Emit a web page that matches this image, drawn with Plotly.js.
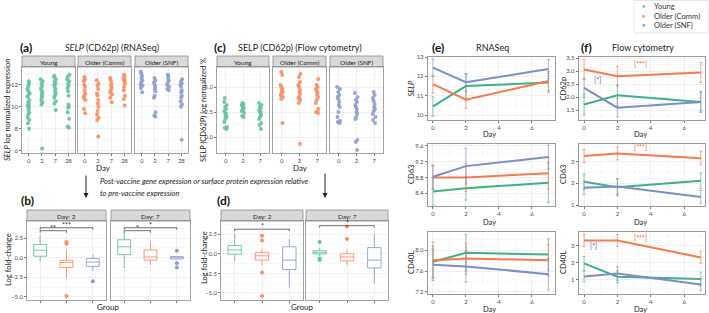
<!DOCTYPE html>
<html><head><meta charset="utf-8">
<script src="https://cdn.plot.ly/plotly-3.0.1.min.js"></script>
<style>body{margin:0;background:#fff}#chart{width:709px;height:313px}</style>
</head><body><div id="chart"></div>
<script>
// ---------- data ----------
const groups = ['Young','Older (Comm)','Older (SNF)'];
const pointColors = ['#66C2A5','#FC8D62','#8DA0CB'];
const lineColors = ['#3FB088','#F37B4E','#7D8DC6'];
const rnaDays = ['0','2','7','28'];
const flowDays = ['0','2','7'];
const trendDays = [0,2,7];

// (a) SELP RNASeq log normalized expression, per day
const selpRnaYoung = [
  [12.3,12.2,12.0,11.8,11.6,11.4,11.2,11.0,10.9,10.6,10.4,10.2,10.1,10.0,9.9,9.7,9.5,9.3,9.0,8.8,8.5,8.0],
  [12.5,12.3,12.1,11.9,11.7,11.5,11.3,11.1,11.0,10.8,10.6,10.4,10.2,6.2],
  [12.8,12.7,12.5,12.3,12.1,12.0,11.8,11.6,11.4,11.2,11.0,10.8,10.5,10.3,9.7],
  [12.9,12.7,12.5,12.3,12.1,11.9,11.7,11.4,11.0,10.2,10.0,9.9,9.5,8.9,8.2,8.1]];
const selpRnaComm = [
  [12.7,12.5,12.3,12.0,11.8,11.5,11.2,11.0,10.8,10.6,9.8,9.4],
  [12.4,12.1,11.9,11.6,11.2,11.0,10.6,10.3,10.0,9.6,9.3,9.0,8.8,7.3],
  [12.6,12.4,12.1,11.9,11.7,11.5,11.3,11.1,10.8,10.4],
  [12.9,12.8,12.6,12.5,12.4,12.3,12.1,11.8,11.5,11.0,10.7,10.1]];
const selpRnaSNF = [
  [13.2,13.0,12.8,12.6,12.4,12.2,12.0,11.9,11.7,11.3],
  [12.6,12.4,12.2,12.0,11.8,11.6,11.4,11.0,10.8,9.5,9.2,9.1],
  [12.9,12.8,12.6,12.4,12.2,12.0,11.8,11.6,11.5],
  [12.5,12.3,12.1,12.0,11.8,11.5,11.3,11.0,10.8,10.5,10.2,10.0,7.0]];

// (c) SELP flow cytometry log normalized %
const selpFlowYoung = [
  [3.9,3.5,3.2,3.0,2.8,2.6,2.4,2.3,2.1,2.0,1.8,1.5,1.0,0.9,0.8],
  [3.4,3.3,3.2,3.1,3.0,2.9,2.8,2.7,2.6,2.4,2.1,2.0],
  [3.4,3.2,3.0,2.9,2.7,2.6,2.5,2.4,2.2,2.0,1.8,1.4,1.2,0.8]];
const selpFlowComm = [
  [6.5,6.2,5.2,5.0,4.8,4.6,4.5,4.3,4.2,4.0,3.8,1.4],
  [6.3,6.0,5.5,5.2,5.0,4.7,4.5,4.3,4.0,3.9,3.7,3.4,-0.7],
  [5.8,5.2,5.0,4.8,4.6,4.4,4.2,4.0,3.7,3.4,2.8,2.5,2.4]];
const selpFlowSNF = [
  [5.0,4.8,4.5,4.2,4.0,3.8,3.5,3.2,3.0,2.5,2.0,1.6,1.5,1.4],
  [4.4,4.0,3.7,3.5,3.2,3.0,2.8,2.5,2.3,2.0,1.8,-0.3,-0.5,-1.3],
  [4.5,4.2,3.9,3.6,3.3,3.0,2.8,2.6,2.3,2.0,1.7,1.4]];

// (b) RNASeq log fold-change box stats [Young, Comm, SNF]
const rnaD2Low = [-0.55,-2.6,-1.7], rnaD2Q1 = [0.2,-1.25,-1.1], rnaD2Med = [0.96,-0.6,-0.55], rnaD2Q3 = [1.7,-0.33,-0.1], rnaD2High = [2.9,1.0,0.4];
const rnaD2Out = [[],[2.0,1.8,-4.9],[-3.0]];
const rnaD7Low = [-1.3,-0.9,-0.2], rnaD7Q1 = [0.4,-0.3,-0.15], rnaD7Med = [1.4,0.1,0.0], rnaD7Q3 = [2.3,1.0,0.15], rnaD7High = [3.3,2.0,0.2];
const rnaD7Out = [[],[],[0.9,-0.7,-1.25]];
// (d) flow cytometry log fold-change box stats
const flowD2Low = [-0.9,-1.5,-4.3], flowD2Q1 = [-0.05,-0.8,-2.0], flowD2Med = [0.5,-0.25,-0.8], flowD2Q3 = [1.06,0.15,0.9], flowD2High = [2.6,0.6,1.9];
const flowD2Out = [[],[2.3,1.7,-2.4,-5.4],[]];
const flowD7Low = [-0.3,-1.4,-3.8], flowD7Q1 = [0.0,-0.9,-1.8], flowD7Med = [0.2,-0.4,-0.8], flowD7Q3 = [0.4,0.0,0.8], flowD7High = [0.8,0.6,2.5];
const flowD7Out = [[1.5,-0.6,-0.8],[3.5,1.9],[]];
// significance brackets
const rnaD2Sig = [{to:1,y:3.46,lab:'**'},{to:2,y:3.84,lab:'***'}];
const rnaD7Sig = [{to:1,y:3.46,lab:'*'},{to:2,y:3.84,lab:'*'}];
const flowD2Sig = [{to:2,y:3.15,lab:'*'}];
const flowD7Sig = [{to:2,y:3.6,lab:'*'}];

// (e) RNASeq means and error
const selpRnaMean = [[10.45,11.5,11.68],[11.6,10.8,11.76],[12.45,11.7,12.38]];
const selpRnaErr  = [[0.5,0.6,0.5],[0.45,0.45,0.5],[0.45,0.45,0.5]];
const cd63RnaMean = [[8.45,8.53,8.67],[8.8,8.8,8.91],[8.82,9.09,9.32]];
const cd63RnaErr  = [[0.35,0.3,0.5],[0.3,0.35,0.4],[0.3,0.45,0.3]];
const cd40lRnaMean = [[7.78,7.95,7.92],[7.81,7.84,7.81],[7.72,7.69,7.54]];
const cd40lRnaErr  = [[0.3,0.35,0.3],[0.35,0.3,0.3],[0.3,0.3,0.3]];
// (f) flow cytometry means and error
const cd62pFlowMean = [[1.72,2.08,1.82],[3.06,2.8,2.95],[2.36,1.6,1.82]];
const cd62pFlowErr  = [[0.4,0.4,0.4],[0.38,0.38,0.38],[0.35,0.35,0.35]];
const cd63FlowMean = [[2.07,1.82,2.12],[3.25,3.37,3.15],[1.8,1.85,1.37]];
const cd63FlowErr  = [[0.35,0.4,0.35],[0.3,0.3,0.3],[0.3,0.35,0.3]];
const cd40lFlowMean = [[1.95,1.18,1.04],[3.28,3.28,2.3],[1.19,1.37,0.72]];
const cd40lFlowErr  = [[0.4,0.35,0.4],[0.35,0.35,0.35],[0.3,0.4,0.35]];

// ---------- layout helpers ----------
const W = 709, H = 313;
const X = p => p / W, Y = p => 1 - p / H;
const FONT = 'Lato, "Open Sans", sans-serif';
const layout = {width:W, height:H, margin:{l:0,r:0,t:0,b:0}, paper_bgcolor:'#fff', plot_bgcolor:'#fff',
  showlegend:false, font:{family:FONT, size:7, color:'#4D4D4D'}, annotations:[], shapes:[], boxmode:'overlay'};
const traces = [];
const xa = n => n === 1 ? 'x' : 'x' + n;
const ya = n => n === 1 ? 'y' : 'y' + n;
function axis(n, x0, x1, y0, y1, xo, yo) {
  const base = {showline:true, mirror:true, linecolor:'#8C8C8C', linewidth:0.8, zeroline:false,
    gridcolor:'#E6E6E6', gridwidth:0.6, ticks:'outside', ticklen:2, tickcolor:'#777',
    tickfont:{size:6, color:'#4D4D4D', family:FONT}, fixedrange:true, automargin:false};
  layout[n === 1 ? 'xaxis' : 'xaxis' + n] = Object.assign({}, base, {domain:[X(x0), X(x1)], anchor:ya(n)}, xo);
  layout[n === 1 ? 'yaxis' : 'yaxis' + n] = Object.assign({}, base, {domain:[Y(y1), Y(y0)], anchor:xa(n)}, yo);
}
function text(x, y, t, opt) {
  layout.annotations.push(Object.assign({xref:'paper', yref:'paper', x:X(x), y:Y(y), text:t, showarrow:false,
    font:{size:7, color:'#222', family:FONT}, xanchor:'center', yanchor:'middle'}, opt));
}
function strip(x0, x1, y0, y1, t) {
  layout.shapes.push({type:'rect', xref:'paper', yref:'paper', x0:X(x0), x1:X(x1), y0:Y(y1), y1:Y(y0),
    fillcolor:'#D9D9D9', line:{color:'#8C8C8C', width:0.8}, layer:'below'});
  text((x0 + x1) / 2, (y0 + y1) / 2 + 0.5, t, {font:{size:6.5, color:'#1A1A1A', family:FONT}});
}
const minorGrid = d => ({dtick:d, showgrid:true, gridcolor:'#F2F2F2', gridwidth:0.5, ticks:''});

// ---------- (a) ----------
const aFacets = [[22,75],[78,131],[135,188]];
const aData = [selpRnaYoung, selpRnaComm, selpRnaSNF];
aFacets.forEach((f, g) => {
  const n = g + 1;
  axis(n, f[0], f[1], 67, 153,
    {type:'category', categoryorder:'array', categoryarray:rnaDays, range:[-0.5,3.5]},
    {range:[5.8,13.6], tick0:0, dtick:2, showticklabels:g === 0, ticks:g === 0 ? 'outside' : '', minor:minorGrid(1)});
  strip(f[0], f[1], 56, 67, groups[g]);
  aData[g].forEach((vals, i) => traces.push({type:'box', y:vals, x0:rnaDays[i], name:'', xaxis:xa(n), yaxis:ya(n),
    boxpoints:'all', jitter:0.4, pointpos:0, fillcolor:'rgba(0,0,0,0)', line:{width:0, color:'rgba(0,0,0,0)'},
    marker:{color:pointColors[g], size:4, opacity:0.9}, hoverinfo:'skip', whiskerwidth:0}));
});
text(18, 47, '(a)', {xanchor:'left', font:{size:12, color:'#111', family:FONT, weight:'bold'}});
text(112, 47, '<i>SELP</i> (CD62p) (RNASeq)', {font:{size:9, color:'#222', family:FONT}});
text(103, 168, 'Day', {font:{size:8, color:'#222', family:FONT}});
text(7, 110, '<i>SELP</i> log normalized expression', {textangle:-90, font:{size:7.5, color:'#222', family:FONT}});

// ---------- (c) ----------
const cFacets = [[217,269],[273,326],[330,383]];
const cData = [selpFlowYoung, selpFlowComm, selpFlowSNF];
cFacets.forEach((f, g) => {
  const n = g + 4;
  axis(n, f[0], f[1], 67, 153,
    {type:'category', categoryorder:'array', categoryarray:flowDays, range:[-0.5,2.5]},
    {range:[-1.6,7.0], tick0:0, dtick:2.5, tickformat:'.1f', showticklabels:g === 0, ticks:g === 0 ? 'outside' : '', minor:minorGrid(1.25)});
  strip(f[0], f[1], 56, 67, groups[g]);
  cData[g].forEach((vals, i) => traces.push({type:'box', y:vals, x0:flowDays[i], name:'', xaxis:xa(n), yaxis:ya(n),
    boxpoints:'all', jitter:0.4, pointpos:0, fillcolor:'rgba(0,0,0,0)', line:{width:0, color:'rgba(0,0,0,0)'},
    marker:{color:pointColors[g], size:4, opacity:0.9}, hoverinfo:'skip', whiskerwidth:0}));
});
text(212, 47, '(c)', {xanchor:'left', font:{size:12, color:'#111', family:FONT, weight:'bold'}});
text(300, 47, 'SELP (CD62p) (Flow cytometry)', {font:{size:9, color:'#222', family:FONT}});
text(300, 168, 'Day', {font:{size:8, color:'#222', family:FONT}});
text(203, 110, 'SELP (CD62P) log normalized %', {textangle:-90, font:{size:7.5, color:'#222', family:FONT}});

// ---------- arrows and caption ----------
[[86,174,198],[325,172,198]].forEach(a => layout.annotations.push({xref:'paper', yref:'paper', x:X(a[0]), y:Y(a[2]),
  ax:X(a[0]), ay:Y(a[1]), axref:'paper', ayref:'paper', text:'', showarrow:true, arrowhead:2, arrowsize:1, arrowwidth:1, arrowcolor:'#222'}));
text(98, 181, '<i>Post-vaccine gene expression or surface protein expression relative</i>', {xanchor:'left', font:{size:7.6, color:'#222', family:FONT}});
text(98, 193, '<i>to pre-vaccine expression</i>', {xanchor:'left', font:{size:7.6, color:'#222', family:FONT}});

// ---------- (b) & (d) boxes ----------
function boxPanel(n, x0, x1, yr, label, low, q1, med, q3, high, outs, sigs) {
  axis(n, x0, x1, 221, 300,
    {type:'category', categoryorder:'array', categoryarray:groups, range:[-0.5,2.5], showticklabels:false},
    {range:yr, tick0:0, dtick:2.5, tickformat:'.1f', showticklabels:(n === 7 || n === 9), ticks:(n === 7 || n === 9) ? 'outside' : '', minor:minorGrid(1.25)});
  strip(x0, x1, 210, 221, label);
  groups.forEach((g, i) => {
    traces.push({type:'box', x:[g], q1:[q1[i]], median:[med[i]], q3:[q3[i]], lowerfence:[low[i]], upperfence:[high[i]],
      xaxis:xa(n), yaxis:ya(n), name:g, fillcolor:'#fff', line:{color:pointColors[i], width:0.9}, whiskerwidth:0,
      boxpoints:false, hoverinfo:'skip'});
    if (outs[i].length) traces.push({type:'scatter', mode:'markers', x:outs[i].map(() => g), y:outs[i], xaxis:xa(n), yaxis:ya(n),
      marker:{color:pointColors[i], size:4}, hoverinfo:'skip'});
  });
  sigs.forEach(s => {
    const tick = 0.25;
    traces.push({type:'scatter', mode:'lines', x:[groups[0], groups[0], groups[s.to], groups[s.to]],
      y:[s.y - tick, s.y, s.y, s.y - tick], xaxis:xa(n), yaxis:ya(n), line:{color:'#333', width:0.7}, hoverinfo:'skip'});
    layout.annotations.push({xref:xa(n), yref:ya(n), x:s.to / 2, y:s.y, text:s.lab, showarrow:false, yanchor:'bottom', yshift:-3,
      font:{size:7, color:'#333', family:FONT}});
  });
}
boxPanel(7, 27, 106, [-5.4,4.7], 'Day: 2', rnaD2Low, rnaD2Q1, rnaD2Med, rnaD2Q3, rnaD2High, rnaD2Out, rnaD2Sig);
boxPanel(8, 111, 190, [-5.4,4.7], 'Day: 7', rnaD7Low, rnaD7Q1, rnaD7Med, rnaD7Q3, rnaD7High, rnaD7Out, rnaD7Sig);
boxPanel(9, 221, 303, [-5.9,4.2], 'Day: 2', flowD2Low, flowD2Q1, flowD2Med, flowD2Q3, flowD2High, flowD2Out, flowD2Sig);
boxPanel(10, 306, 388, [-5.9,4.2], 'Day: 7', flowD7Low, flowD7Q1, flowD7Med, flowD7Q3, flowD7High, flowD7Out, flowD7Sig);
text(19, 200, '(b)', {xanchor:'left', font:{size:12, color:'#111', family:FONT, weight:'bold'}});
text(215, 200, '(d)', {xanchor:'left', font:{size:12, color:'#111', family:FONT, weight:'bold'}});
text(108, 307, 'Group', {font:{size:8, color:'#222', family:FONT}});
text(302, 307, 'Group', {font:{size:8, color:'#222', family:FONT}});
text(8, 260, 'Log fold-change', {textangle:-90, font:{size:7.5, color:'#222', family:FONT}});
text(204, 258, 'Log fold-change', {textangle:-90, font:{size:7.5, color:'#222', family:FONT}});

// ---------- (e) & (f) trend panels ----------
const rows = [[57,120,135],[144,206,222],[232,294,309]];
function trend(n, x0, x1, row, xr, yr, dtick, fmt, minor, means, errs, ytitle, titleX) {
  axis(n, x0, x1, rows[row][0], rows[row][1],
    {range:xr, tick0:0, dtick:2, minor:minorGrid(1), linecolor:'#9A9A9A', linewidth:1.2},
    {range:yr, tick0:0, dtick:dtick, tickformat:fmt, minor:minorGrid(minor), linecolor:'#9A9A9A', linewidth:1.2});
  means.forEach((m, g) => traces.push({type:'scatter', mode:'lines', x:trendDays, y:m, xaxis:xa(n), yaxis:ya(n),
    line:{color:lineColors[g], width:2},
    error_y:{type:'data', array:errs[g], visible:true, color:lineColors[g], thickness:0.6, width:1.5}, hoverinfo:'skip'}));
  text((x0 + x1) / 2 - 2, rows[row][2], 'Day', {font:{size:7.5, color:'#222', family:FONT}});
  text(titleX, (rows[row][0] + rows[row][1]) / 2, ytitle, {textangle:-90, font:{size:7.5, color:'#222', family:FONT}});
}
trend(11, 428, 555, 0, [-0.3,7.4], [9.75,13.0], 1, '', 0.5, selpRnaMean, selpRnaErr, '<i>SELP</i>', 411);
trend(12, 428, 555, 1, [-0.3,7.4], [8.08,9.65], 0.4, '.1f', 0.2, cd63RnaMean, cd63RnaErr, 'CD63', 411);
trend(13, 428, 555, 2, [-0.3,7.4], [7.16,8.35], 0.4, '.1f', 0.2, cd40lRnaMean, cd40lRnaErr, 'CD40L', 411);
trend(14, 579, 705, 0, [-0.3,7.25], [1.13,3.54], 0.5, '.1f', 0.25, cd62pFlowMean, cd62pFlowErr, 'CD62p', 563);
trend(15, 579, 705, 1, [-0.3,7.25], [0.96,3.8], 1, '', 0.5, cd63FlowMean, cd63FlowErr, 'CD63', 563);
trend(16, 579, 705, 2, [-0.3,7.25], [0.17,3.78], 1, '', 0.5, cd40lFlowMean, cd40lFlowErr, 'CD40L', 563);
text(430, 47, '(e)', {xanchor:'left', font:{size:12, color:'#111', family:FONT, weight:'bold'}});
text(492, 47, 'RNASeq', {font:{size:9, color:'#222', family:FONT}});
text(579, 47, '(f)', {xanchor:'left', font:{size:12, color:'#111', family:FONT, weight:'bold'}});
text(643, 47, 'Flow cytometry', {font:{size:9, color:'#222', family:FONT}});
const sigOrange = '#EB6F3C', sigPurple = '#6A5CB0';
[[14,3.4,3.28,'[***]',sigOrange],[14,0.8,2.65,'[*]',sigPurple],[15,3.4,3.65,'[***]',sigOrange],
 [16,3.4,3.45,'[***]',sigOrange],[16,0.55,2.95,'[*]',sigPurple]].forEach(a =>
  layout.annotations.push({xref:xa(a[0]), yref:ya(a[0]), x:a[1], y:a[2], text:a[3], showarrow:false,
    font:{size:7, color:a[4], family:FONT}}));

// ---------- legend ----------
layout.shapes.push({type:'rect', xref:'paper', yref:'paper', x0:X(634), x1:X(708), y0:Y(33), y1:Y(0.5),
  fillcolor:'#fff', line:{color:'#E0E0E0', width:0.8}});
groups.forEach((g, i) => {
  const yy = 6 + i * 9.5;
  text(643, yy, '●', {font:{size:5.5, color:pointColors[i], family:FONT}});
  text(652, yy, g, {xanchor:'left', font:{size:7.6, color:'#333', family:FONT}});
});

Plotly.newPlot('chart', traces, layout, {staticPlot:true, displayModeBar:false});
</script></body></html>
